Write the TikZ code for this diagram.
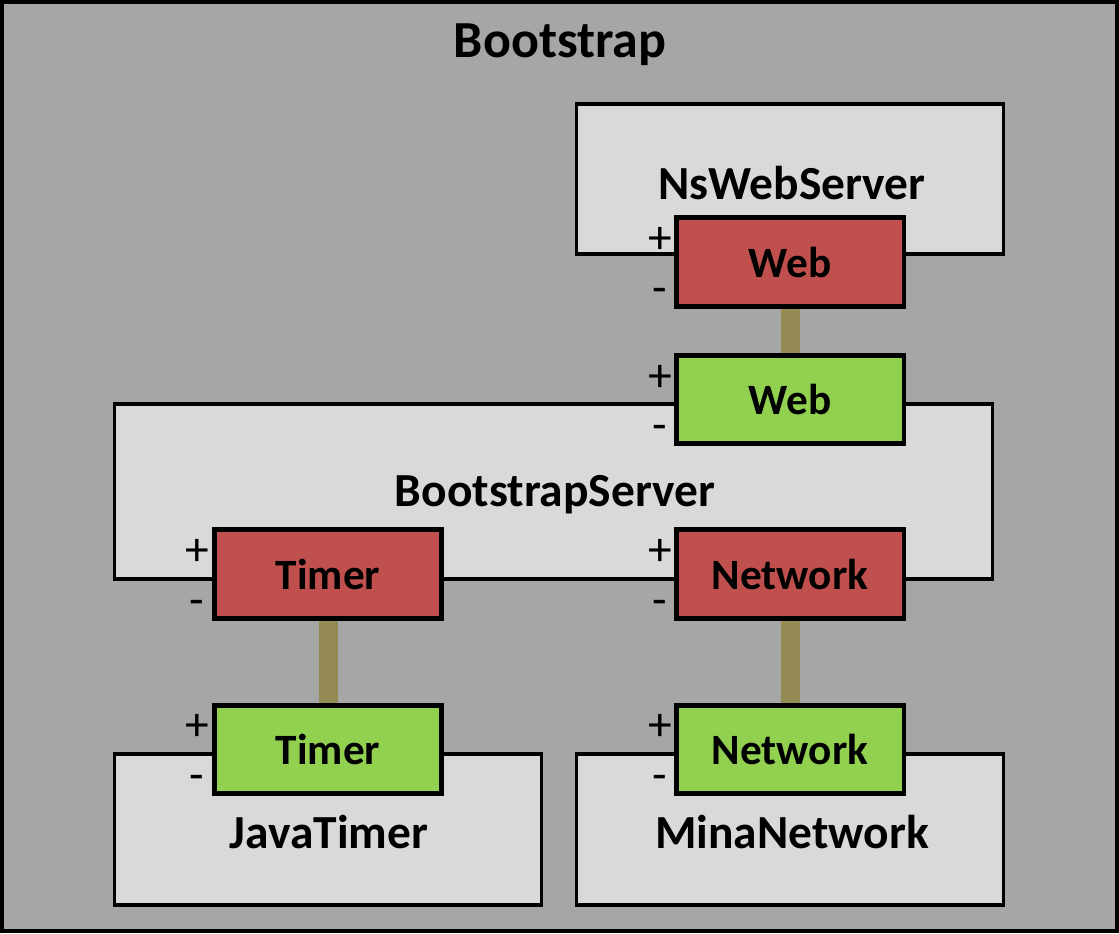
\documentclass[tikz,border=0pt]{standalone}
\usepackage{fontspec}
\setmainfont{Carlito}
\definecolor{outerfill}{HTML}{A6A6A6}
\definecolor{compfill}{HTML}{D9D9D9}
\definecolor{redport}{HTML}{C0504D}
\definecolor{greenport}{HTML}{92D050}
\definecolor{wire}{HTML}{948A54}
\begin{document}
\begin{tikzpicture}[x=0.01cm,y=-0.01cm,
  outerbox/.style={draw=black,line width=0.9pt,fill=outerfill},
  compbox/.style={draw=black,line width=0.9pt,fill=compfill,inner sep=0pt},
  portbox/.style={draw=black,line width=0.9pt,inner sep=0pt,minimum width=2.26cm,minimum height=0.87cm,font=\fontsize{12.3}{15}\selectfont\bfseries},
  reqport/.style={portbox,fill=redport},
  provport/.style={portbox,fill=greenport},
  title/.style={font=\fontsize{13.5}{16}\selectfont\bfseries,inner sep=0pt},
  sign/.style={font=\fontsize{13.5}{16}\selectfont,inner sep=0pt},
  wirestyle/.style={draw=wire,line width=5.4pt}]
\useasboundingbox (0,0) rectangle (1119,933);
\draw[outerbox] (2,2) rectangle (1117,931);
\node[title,font=\fontsize{14.8}{17}\selectfont\bfseries] (bootstrap) at (560,45) {Bootstrap};
% components
\node[compbox,minimum width=4.26cm,minimum height=1.50cm] (nsweb) at (790,179) {};
\node[title] (nswebt) at (792,183) {NsWebServer};
\node[compbox,minimum width=8.77cm,minimum height=1.75cm] (bserver) at (553.5,491.5) {};
\node[title] (bservert) at (555,495) {BootstrapServer};
\node[compbox,minimum width=4.26cm,minimum height=1.51cm] (javatimer) at (328,829.5) {};
\node[title] (javatimert) at (329,832) {JavaTimer};
\node[compbox,minimum width=4.26cm,minimum height=1.51cm] (mina) at (790,829.5) {};
\node[title] (minat) at (792,832) {MinaNetwork};
% ports
\node[reqport] (webR) at (790,262) {Web};
\node[provport] (webG) at (790,399.5) {Web};
\node[reqport] (timerR) at (328,574) {Timer};
\node[reqport] (netR) at (790,574) {Network};
\node[provport] (timerG) at (328,749.5) {Timer};
\node[provport] (netG) at (790,749.5) {Network};
% wires
\draw[wirestyle] (webR.south) -- (webG.north);
\draw[wirestyle] (timerR.south) -- (timerG.north);
\draw[wirestyle] (netR.south) -- (netG.north);
% redraw port borders over wire ends
\foreach \p in {webR,webG,timerR,netR,timerG,netG}{
  \draw[black,line width=0.9pt] (\p.south west) rectangle (\p.north east);
}
% signs
\node[sign] (webRp) at (660,240) {+};
\node[sign] (webRm) at (660,296) {-};
\node[sign] (webGp) at (660,378) {+};
\node[sign] (webGm) at (660,433) {-};
\node[sign] (timerRp) at (197,552) {+};
\node[sign] (timerRm) at (197,608) {-};
\node[sign] (netRp) at (660,552) {+};
\node[sign] (netRm) at (660,608) {-};
\node[sign] (timerGp) at (197,727) {+};
\node[sign] (timerGm) at (197,783) {-};
\node[sign] (netGp) at (660,727) {+};
\node[sign] (netGm) at (660,783) {-};
\end{tikzpicture}
\end{document}
